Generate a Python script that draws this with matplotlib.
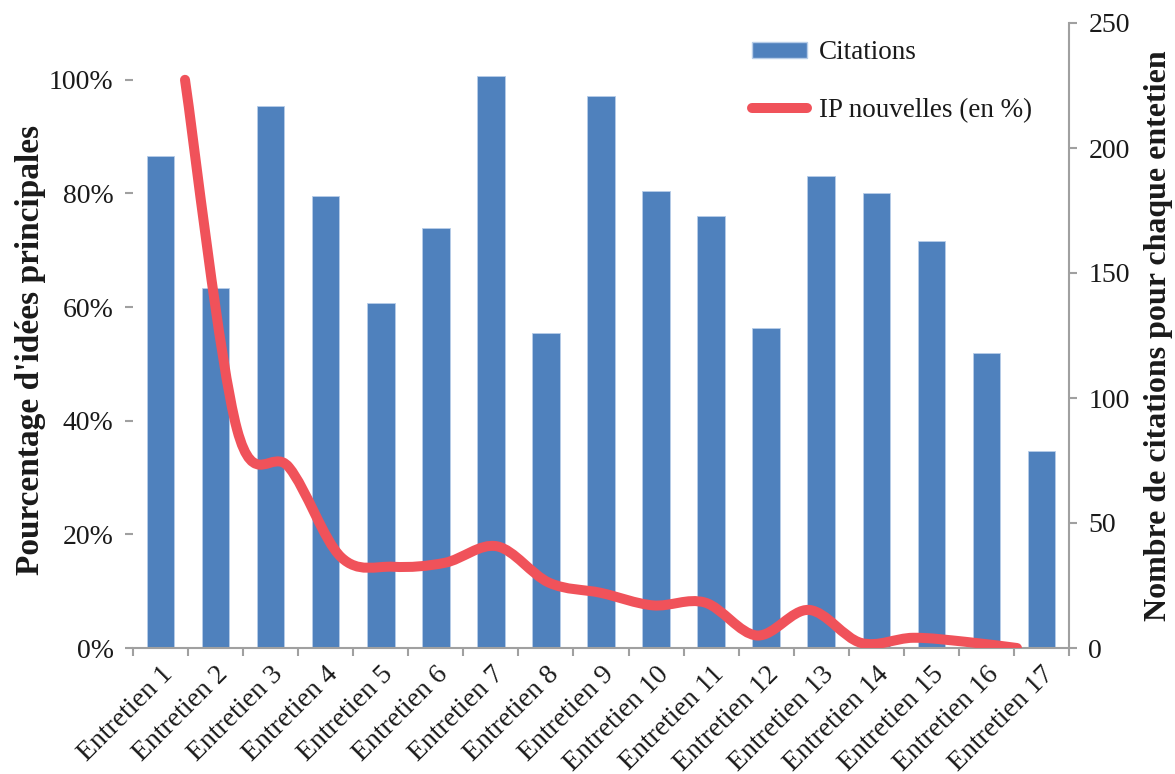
import numpy as np
import matplotlib
matplotlib.use('Agg')
import matplotlib.pyplot as plt
from matplotlib.path import Path
from matplotlib.patches import PathPatch, Patch
from matplotlib.lines import Line2D
from matplotlib.ticker import FuncFormatter, FixedLocator

# data
categories = ['Entretien %d' % i for i in range(1, 18)]
citations = [197, 144, 217, 181, 138, 168, 229, 126, 221, 183, 173, 128, 189, 182, 163, 118, 79]
ip_nouvelles = [1.00, 0.385, 0.318, 0.160, 0.143, 0.150, 0.179, 0.115, 0.097, 0.075,
                0.080, 0.022, 0.067, 0.009, 0.018, 0.011, 0.0]

BLUE = '#4F81BD'
RED = '#F0525A'
GREY = '#A0A0A0'
TXT = '#1a1a1a'

plt.rcParams['font.family'] = ['Liberation Serif', 'DejaVu Serif']
plt.rcParams['font.size'] = 20


def smooth_path(xs, ys):
    # excel-like smoothed line: catmull-rom segments as cubic bezier
    pts = np.column_stack([xs, ys]).astype(float)
    n = len(pts)
    verts = [pts[0]]
    codes = [Path.MOVETO]
    for i in range(n - 1):
        p0 = pts[i - 1] if i > 0 else pts[i]
        p1 = pts[i]
        p2 = pts[i + 1]
        p3 = pts[i + 2] if i + 2 < n else pts[i + 1]
        c1 = p1 + (p2 - p0) / 6.0
        c2 = p2 - (p3 - p1) / 6.0
        verts += [c1, c2, p2]
        codes += [Path.CURVE4] * 3
    return Path(verts, codes)


W, H = 1175, 774
fig = plt.figure(figsize=(W / 100, H / 100), dpi=100)
pos = [133 / W, 1 - 648 / H, 936 / W, 625 / H]

# bars (right axis)
ax_bar = fig.add_axes(pos)
x = np.arange(len(categories))
ax_bar.bar(x, citations, width=0.5, color=BLUE, edgecolor='#b7cde8', linewidth=0.6)
ax_bar.set_xlim(-0.5, len(categories) - 0.5)
ax_bar.set_ylim(0, 250)
ax_bar.yaxis.tick_right()
ax_bar.yaxis.set_label_position('right')
ax_bar.set_yticks(range(0, 251, 50))
ax_bar.set_ylabel('Nombre de citations pour chaque entetien', fontweight='bold',
                  fontsize=23, color=TXT, labelpad=10)
ax_bar.set_xticks(x)
ax_bar.set_xticklabels(categories, rotation=45, ha='right', va='top',
                       rotation_mode='anchor', color=TXT)
ax_bar.xaxis.set_minor_locator(FixedLocator(np.arange(-0.5, len(categories), 1.0)))
ax_bar.tick_params(axis='x', which='major', length=0, pad=10)
ax_bar.tick_params(axis='x', which='minor', length=6, width=1.5, color=GREY, direction='out')
ax_bar.tick_params(axis='y', length=6, width=1.5, color=GREY, direction='out',
                   labelcolor=TXT, pad=8)
for s in ['top', 'left']:
    ax_bar.spines[s].set_visible(False)
for s in ['bottom', 'right']:
    ax_bar.spines[s].set_color(GREY)
    ax_bar.spines[s].set_linewidth(1.5)

# line (left axis), on its own horizontal scale
ax_line = fig.add_axes(pos, frameon=False)
xl = np.arange(1, len(ip_nouvelles) + 1)
ax_line.set_xlim(0, len(ip_nouvelles) + 1)
ax_line.set_ylim(0, 1.1)
patch = PathPatch(smooth_path(xl, ip_nouvelles), fill=False, edgecolor=RED,
                  linewidth=7.2, capstyle='round', joinstyle='round', zorder=3)
ax_line.add_patch(patch)
ax_line.xaxis.set_visible(False)
ax_line.set_yticks(np.arange(0, 1.01, 0.2))
ax_line.yaxis.set_major_formatter(FuncFormatter(lambda v, p: '{:.0f}%'.format(v * 100)))
ax_line.tick_params(axis='y', length=6, width=1.5, color=GREY, direction='out',
                    labelcolor=TXT, pad=8)
ax_line.spines['left'].set_visible(True)
ax_line.spines['left'].set_color(GREY)
ax_line.spines['left'].set_linewidth(1.5)
ax_line.set_ylabel("Pourcentage d'idées principales", fontweight='bold',
                   fontsize=24, color=TXT)
ax_line.yaxis.set_label_coords(-0.093, 0.477)

handles = [Patch(facecolor=BLUE, edgecolor='#b7cde8', label='Citations'),
           Line2D([0], [0], color=RED, linewidth=7.2, solid_capstyle='round',
                  label='IP nouvelles (en %)')]
fig.legend(handles=handles, loc='upper left', bbox_to_anchor=(728 / W, 1 - 16 / H),
           frameon=False, fontsize=19.5, handlelength=2.0, handleheight=0.55,
           handletextpad=0.45, labelspacing=1.2, labelcolor=TXT)

fig.savefig('out.png', dpi=100)
